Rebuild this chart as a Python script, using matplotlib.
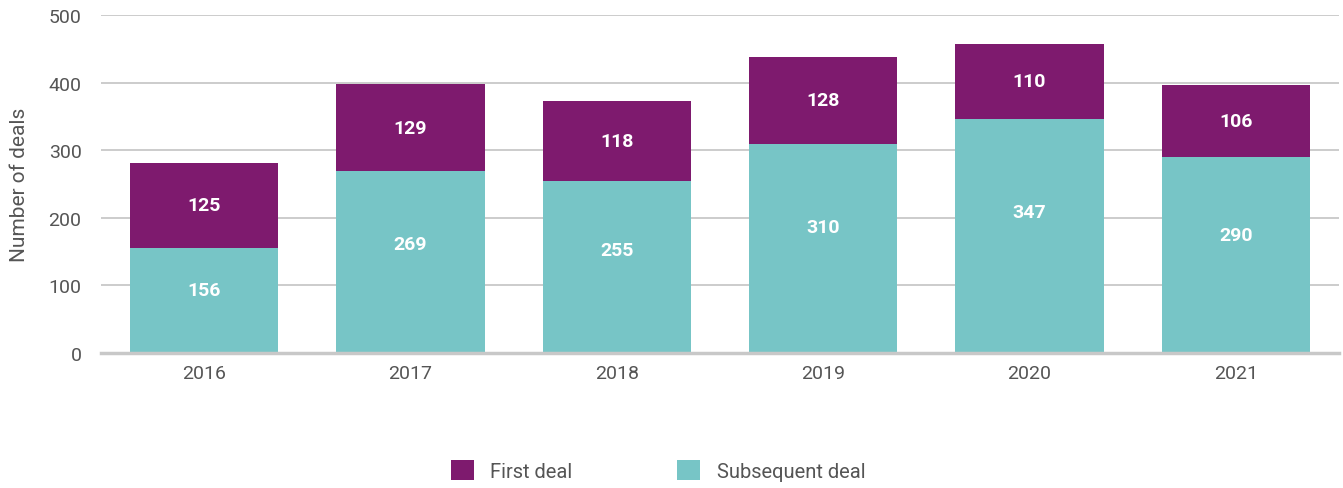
import numpy as np
import matplotlib.pyplot as plt

plt.rcParams['font.family'] = ['Roboto', 'DejaVu Sans']

years = ['2016', '2017', '2018', '2019', '2020', '2021']
subsequent = [156, 269, 255, 310, 347, 290]
first = [125, 129, 118, 128, 110, 106]

purple = '#7E1A6E'
teal = '#77C5C6'
grey_txt = '#555555'

fig = plt.figure(figsize=(13.43, 4.89), dpi=100)
ax = fig.add_axes([0.0752, 0.276, 0.9218, 0.691])

x = np.arange(len(years))
b1 = ax.bar(x, subsequent, width=0.72, color=teal, label='Subsequent deal', zorder=3)
b2 = ax.bar(x, first, width=0.72, bottom=subsequent, color=purple, label='First deal', zorder=3)

# подписи значений внутри сегментов
for i in range(len(years)):
    ax.text(x[i], subsequent[i] * 0.6, str(subsequent[i]), ha='center', va='center',
            color='white', fontsize=14, fontweight='bold', zorder=4)
    ax.text(x[i], subsequent[i] + first[i] / 2, str(first[i]), ha='center', va='center',
            color='white', fontsize=14, fontweight='bold', zorder=4)

ax.set_xlim(-0.5, len(years) - 0.5)
ax.set_ylim(0, 500)
ax.set_yticks(range(0, 501, 100))
ax.set_xticks(x)
ax.set_xticklabels(years)
ax.yaxis.grid(True, color='#C4C4C4', linewidth=1.2, zorder=0)
ax.tick_params(axis='both', length=0, labelsize=14, colors=grey_txt)
ax.tick_params(axis='y', pad=14)
ax.tick_params(axis='x', pad=8)
for s in ['top', 'right', 'left']:
    ax.spines[s].set_visible(False)
ax.spines['bottom'].set_color('#C8C8C8')
ax.spines['bottom'].set_linewidth(2.5)
ax.spines['bottom'].set_zorder(5)
ax.set_ylabel('Number of deals', fontsize=15, color=grey_txt)
ax.yaxis.set_label_coords(-0.058, 0.5)

fig.legend(handles=[b2, b1], loc='center', bbox_to_anchor=(0.49, 0.035), ncol=2,
           frameon=False, fontsize=14.5, labelcolor=grey_txt, handlelength=1.15,
           handleheight=1.15, handletextpad=0.8, columnspacing=5.2)

fig.savefig('out.png', dpi=100)
